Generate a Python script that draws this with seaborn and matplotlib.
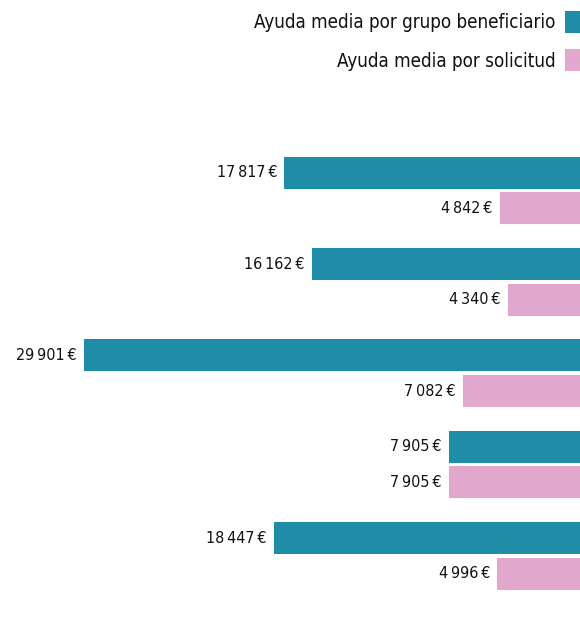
import matplotlib
matplotlib.use("Agg")
import numpy as np
import pandas as pd
import seaborn as sns
import matplotlib.pyplot as plt
from matplotlib import font_manager

sns.set_style("white")

# pick a narrow font if there is one
names = {f.name for f in font_manager.fontManager.ttflist}
narrow = "Liberation Sans Narrow" if "Liberation Sans Narrow" in names else "DejaVu Sans"
plt.rcParams["font.family"] = [narrow, "DejaVu Sans"]
plt.rcParams["font.stretch"] = "condensed"
plt.rcParams["text.color"] = "#111111"

# data
grupos = ["1", "2", "3", "4", "5"]
por_grupo = [17817, 16162, 29901, 7905, 18447]
por_solicitud = [4842, 4340, 7082, 7905, 4996]
series = ["Ayuda media por grupo beneficiario", "Ayuda media por solicitud"]
colores = ["#1f8ca8", "#e1a7cd"]

df = pd.DataFrame({
    "grupo": grupos * 2,
    "valor": por_grupo + por_solicitud,
    "serie": [series[0]] * len(grupos) + [series[1]] * len(grupos),
})

fig = plt.figure(figsize=(5.8, 6.25), dpi=100)
ax = fig.add_axes([0, 0, 1, 1])

sns.barplot(data=df, y="grupo", x="valor", hue="serie", orient="h",
            palette=colores, saturation=1, width=0.78, gap=0.1,
            linewidth=0, ax=ax, legend=True)

# bars grow from the right edge
ax.set_xlim(max(por_grupo) * 580 / 496, 0)
ax.set_ylim(4.755, -2.084)


def euros(v):
    s = f"{int(round(v)):,}".replace(",", "\u2009")
    return s + "\u2009€"


for cont in ax.containers:
    ax.bar_label(cont, labels=[euros(b.get_width()) for b in cont],
                 padding=5, fontsize=11.5, color="#111111")

handles, labels = ax.get_legend_handles_labels()
ax.get_legend().remove()
fig.legend(handles, labels, loc="upper right", bbox_to_anchor=(1.0, 1 - 11 / 625),
           markerfirst=False, frameon=False, fontsize=13.5,
           handlelength=0.8, handleheight=1.45, handletextpad=0.5,
           labelspacing=0.85, borderpad=0, borderaxespad=0)

ax.set_axis_off()
fig.savefig("out.png", dpi=100)
